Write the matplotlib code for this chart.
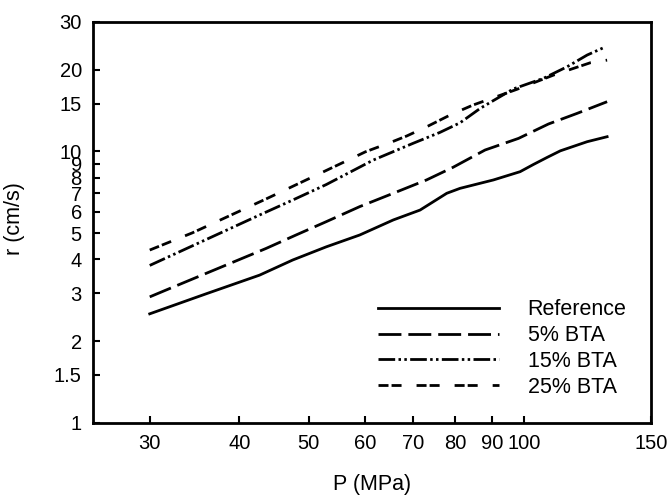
import matplotlib
matplotlib.use("Agg")
import matplotlib.pyplot as plt
from matplotlib.ticker import FixedLocator, FixedFormatter, NullLocator

plt.rcParams["font.family"] = ["Liberation Sans", "DejaVu Sans"]
plt.rcParams["lines.scale_dashes"] = False

# burning rate r (cm/s) vs pressure P (MPa)
p_ref = [30, 36.0, 42.7, 47.5, 52.9, 58.9, 65.6, 71.5, 77.9, 81.3, 90.5, 98.6, 102.9, 107.5, 112.2, 122.3, 130.4]
r_ref = [2.52, 2.99, 3.50, 3.98, 4.45, 4.92, 5.59, 6.08, 7.01, 7.31, 7.85, 8.42, 8.95, 9.50, 10.05, 10.86, 11.33]

p_5 = [30, 32.6, 43.6, 48.0, 52.9, 58.9, 65.6, 73.0, 79.5, 88.1, 98.1, 108.0, 118.4, 130.4]
r_5 = [2.91, 3.19, 4.39, 4.92, 5.51, 6.26, 7.01, 7.85, 8.74, 10.12, 11.17, 12.62, 13.81, 15.25]

p_15 = [30, 42.7, 47.5, 52.9, 61.5, 69.9, 76.2, 81.3, 86.7, 90.5, 96.5, 106.3, 114.7, 122.3, 129.3]
r_15 = [3.80, 5.83, 6.62, 7.55, 9.29, 10.71, 11.75, 12.75, 14.4, 15.4, 17.0, 18.6, 20.52, 22.66, 24.2]

p_25 = [30, 34.4, 43.8, 49.9, 56.4, 60.0, 64.9, 68.5, 73.4, 79.1, 84.8, 97.6, 109.8, 123.6, 130.4]
r_25 = [4.33, 5.01, 6.72, 7.91, 9.22, 9.97, 10.77, 11.4, 12.41, 13.7, 14.83, 16.94, 19.12, 21.23, 21.7]

labels = ["Reference", "5% BTA", "15% BTA", "25% BTA"]

x_ticks = [30, 40, 50, 60, 70, 80, 90, 100, 150]
y_ticks = [1, 1.5, 2, 3, 4, 5, 6, 7, 8, 9, 10, 15, 20, 30]

fig = plt.figure(figsize=(6.68, 4.95), dpi=100)
ax = fig.add_axes([0.1392, 0.146, 0.8349, 0.8096])

lw = 2.0
ax.plot(p_ref, r_ref, color="black", lw=lw, ls="-", label=labels[0])
ax.plot(p_5, r_5, color="black", lw=lw, ls=(0, (16.5, 5.0)), label=labels[1])
ax.plot(p_15, r_15, color="black", lw=lw, ls=(0, (12.0, 2.4, 1.8, 2.4, 1.8, 2.4)), label=labels[2])
ax.plot(p_25, r_25, color="black", lw=lw, ls=(0, (7.2, 2.2, 7.2, 10.8)), label=labels[3])

ax.set_xscale("log")
ax.set_yscale("log")
ax.set_xlim(25, 150)
ax.set_ylim(1, 30)

ax.xaxis.set_major_locator(FixedLocator(x_ticks))
ax.xaxis.set_major_formatter(FixedFormatter([str(v) for v in x_ticks]))
ax.xaxis.set_minor_locator(NullLocator())
ax.yaxis.set_major_locator(FixedLocator(y_ticks))
ax.yaxis.set_major_formatter(FixedFormatter([f"{v:g}" for v in y_ticks]))
ax.yaxis.set_minor_locator(NullLocator())

ax.tick_params(direction="in", length=5, width=1.5, labelsize=14.5, pad=8, colors="black")
for s in ax.spines.values():
    s.set_linewidth(2.0)

ax.set_xlabel("P (MPa)", fontsize=15.5)
ax.set_ylabel("r (cm/s)", fontsize=15.5)
ax.xaxis.label.set_va("center")
ax.yaxis.label.set_va("center")
ax.xaxis.set_label_coords(0.5, -0.155)
ax.yaxis.set_label_coords(-0.14, 0.51)

ax.legend(loc="upper left", bbox_to_anchor=(0.511, 0.3075), frameon=False, fontsize=15.5,
          borderpad=0, borderaxespad=0, handlelength=5.6, handletextpad=1.35,
          labelspacing=0.22)

fig.savefig("out.png", dpi=100)
